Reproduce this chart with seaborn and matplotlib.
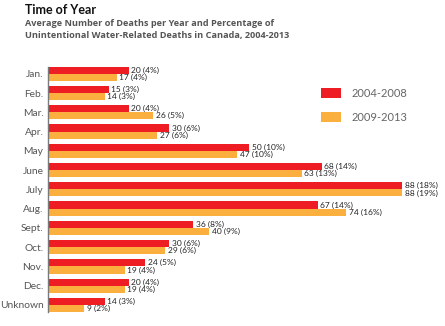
import matplotlib
matplotlib.use("Agg")
import matplotlib.pyplot as plt
from matplotlib.patches import Patch
import seaborn as sns
import pandas as pd

months = ["Jan.", "Feb.", "Mar.", "Apr.", "May", "June", "July", "Aug.",
          "Sept.", "Oct.", "Nov.", "Dec.", "Unknown"]
deaths_0408 = [20, 15, 20, 30, 50, 68, 88, 67, 36, 30, 24, 20, 14]
pct_0408 = [4, 3, 4, 6, 10, 14, 18, 14, 8, 6, 5, 4, 3]
deaths_0913 = [17, 14, 26, 27, 47, 63, 88, 74, 40, 29, 19, 19, 9]
pct_0913 = [4, 3, 5, 6, 10, 13, 19, 16, 9, 6, 4, 4, 2]
periods = ["2004-2008", "2009-2013"]
colors = ["#EE1D24", "#FBAF3F"]

sns.set_style("white")
plt.rcParams["font.family"] = ["Lato", "DejaVu Sans"]

df = pd.DataFrame({
    "month": months * 2,
    "deaths": deaths_0408 + deaths_0913,
    "pct": pct_0408 + pct_0913,
    "period": [periods[0]] * len(months) + [periods[1]] * len(months),
})

W, H = 445, 326
fig = plt.figure(figsize=(W / 100, H / 100), dpi=100)
ax = fig.add_axes([48.3 / W, 0.0429, (W - 48.3) / W, 0.7525])

bw = 0.74
sns.barplot(data=df, y="month", x="deaths", hue="period", order=months,
            hue_order=periods, palette=colors, width=bw, orient="h",
            saturation=1, legend=False, ax=ax, errorbar=None)

for cont, d, p in zip(ax.containers, [deaths_0408, deaths_0913], [pct_0408, pct_0913]):
    for bar in cont:
        bar.set_edgecolor("none")
    ax.bar_label(cont, labels=[f"{a} ({b}%)" for a, b in zip(d, p)],
                 padding=2, fontsize=6, color="#222222")

ax.set_xlim(0, (W - 48.3) / 4.02)
ax.set_ylim(len(months) - 1 + bw / 2, -bw / 2)
ax.set_xlabel("")
ax.set_ylabel("")
ax.set_xticks([])
for s in ["top", "right", "bottom"]:
    ax.spines[s].set_visible(False)
ax.spines["left"].set_color("#7a7a7a")
ax.spines["left"].set_linewidth(1.0)
ax.tick_params(axis="y", length=0, pad=3.5, labelsize=7.4, labelcolor="#555555")

handles = [Patch(facecolor=c, edgecolor="none", label=l) for c, l in zip(colors, periods)]
fig.legend(handles=handles, loc="upper left",
           bbox_to_anchor=(320.7 / W, 1 - 88 / H), bbox_transform=fig.transFigure,
           frameon=False, fontsize=8, labelcolor="#666666",
           handlelength=1.8, handleheight=1.0, handletextpad=1.0,
           labelspacing=1.16, borderpad=0, borderaxespad=0)

fig.text(25 / W, 1 - 13.5 / H, "Time of Year", fontsize=9, fontweight="bold",
         color="#111111", va="baseline", ha="left")
fig.text(25 / W, 1 - 26 / H, "Average Number of Deaths per Year and Percentage of",
         fontsize=6.55, fontweight="bold", color="#555555", va="baseline", ha="left",
         family=["Open Sans", "DejaVu Sans"])
fig.text(25 / W, 1 - 37.7 / H, "Unintentional Water-Related Deaths in Canada, 2004-2013",
         fontsize=6.55, fontweight="bold", color="#555555", va="baseline", ha="left",
         family=["Open Sans", "DejaVu Sans"])

fig.savefig("out.png", dpi=100)
